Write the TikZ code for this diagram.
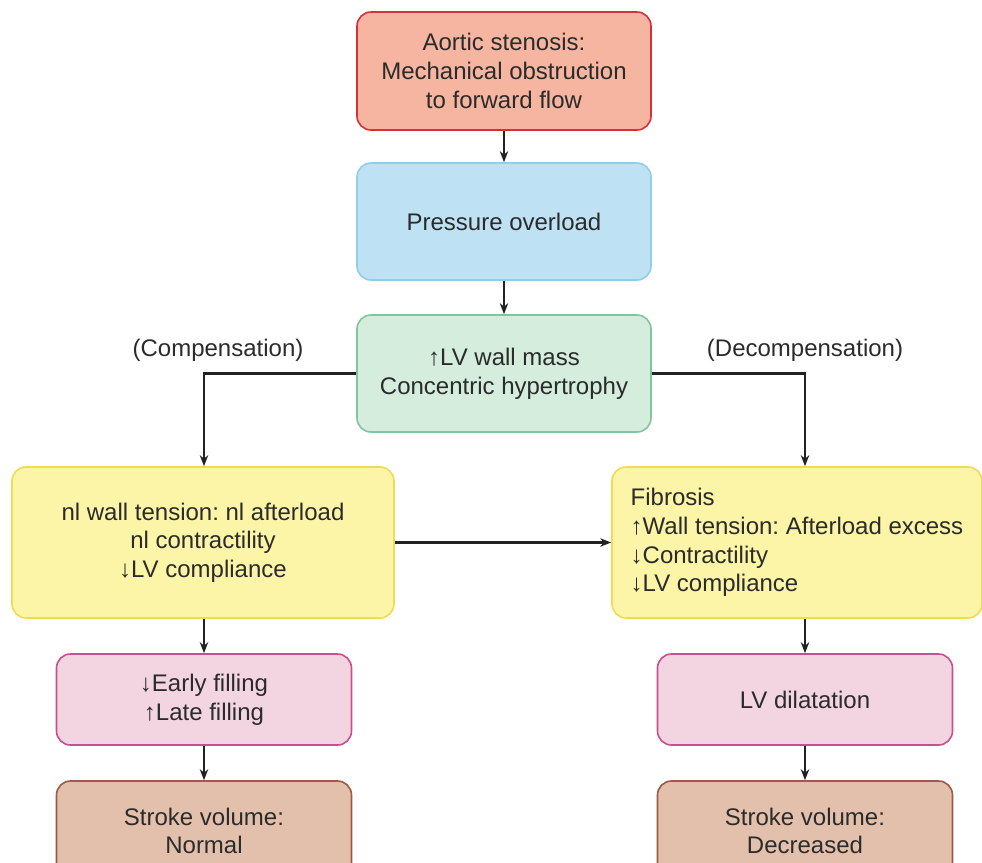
\documentclass[tikz,border=0pt]{standalone}
\usepackage{fontspec}
\setmainfont{Liberation Sans}
\frenchspacing
\usepackage{xcolor}
\definecolor{ink}{HTML}{2B2B2B}
\definecolor{salmon}{HTML}{F6B5A0}
\definecolor{brick}{HTML}{D8303A}
\definecolor{skyfill}{HTML}{BEE2F3}
\definecolor{skyline}{HTML}{93CDE8}
\definecolor{mintfill}{HTML}{D4EDDC}
\definecolor{mintline}{HTML}{82C59C}
\definecolor{lemon}{HTML}{FCF4A6}
\definecolor{lemonline}{HTML}{EEDC55}
\definecolor{rose}{HTML}{F3D4E1}
\definecolor{roseline}{HTML}{C8508E}
\definecolor{tan}{HTML}{E3C0AC}
\definecolor{tanline}{HTML}{9C5A48}
\usetikzlibrary{arrows.meta}
\tikzset{
  >={Stealth[length=5.5pt,width=4.2pt]},
  box/.style     ={rounded corners=7pt,line width=0.8pt,align=center,text=ink,
                   inner sep=4pt,font=\fontsize{12}{14.3}\selectfont},
  causebox/.style={box,draw=brick,fill=salmon,minimum width=147pt,minimum height=59pt},
  loadbox/.style ={box,draw=skyline,fill=skyfill,minimum width=147pt,minimum height=58.5pt},
  massbox/.style ={box,draw=mintline,fill=mintfill,minimum width=147pt,minimum height=58.5pt},
  statebox/.style={box,draw=lemonline,fill=lemon,minimum height=75.5pt},
  fillbox/.style ={box,draw=roseline,fill=rose,minimum width=147.5pt,minimum height=45.5pt},
  svbox/.style   ={box,draw=tanline,fill=tan,minimum width=147.5pt,minimum height=50pt},
  lbl/.style     ={text=ink,font=\fontsize{12}{14.3}\selectfont,inner sep=1pt},
  flow/.style    ={->,draw=ink!80!black,line width=1.45pt},
}
\begin{document}
\begin{tikzpicture}[x=0.5pt,y=-0.5pt]
\clip (0,0) rectangle (982,863);
\fill[white] (0,0) rectangle (982,863);
% main column
\node[causebox] (cause) at (504,71) {Aortic stenosis:\\Mechanical obstruction\\to forward flow};
\node[loadbox] (load) at (504,221.5) {Pressure overload};
\node[massbox] (mass) at (504,373.5) {↑LV wall mass\\Concentric hypertrophy};
% the two branches
\node[statebox,minimum width=191pt] (comp) at (203,542.5)
  {nl wall tension: nl afterload\\nl contractility\\↓LV compliance};
\node[statebox,minimum width=185pt,align=left] (decomp) at (797,542.5)
  {Fibrosis\\↑Wall tension: Afterload excess\\↓Contractility\\↓LV compliance};
\node[fillbox] (filling) at (204,699.5) {↓Early filling\\↑Late filling};
\node[fillbox] (dil) at (805,699.5) {LV dilatation};
\node[svbox] (svnorm) at (204,831) {Stroke volume:\\Normal};
\node[svbox] (svdec) at (805,831) {Stroke volume:\\Decreased};
\node[lbl] (lblcomp) at (218,350) {(Compensation)};
\node[lbl] (lbldecomp) at (805,350) {(Decompensation)};
% connectors
\draw[flow] (cause) -- (load);
\draw[flow] (load) -- (mass);
\draw[flow] (mass.west) -| (filling |- comp.north);
\draw[flow] (mass.east) -| (dil |- decomp.north);
\draw[flow] (comp.east) -- (decomp.west);
\draw[flow] (filling |- comp.south) -- (filling);
\draw[flow] (dil |- decomp.south) -- (dil);
\draw[flow] (filling) -- (svnorm);
\draw[flow] (dil) -- (svdec);
\end{tikzpicture}
\end{document}
